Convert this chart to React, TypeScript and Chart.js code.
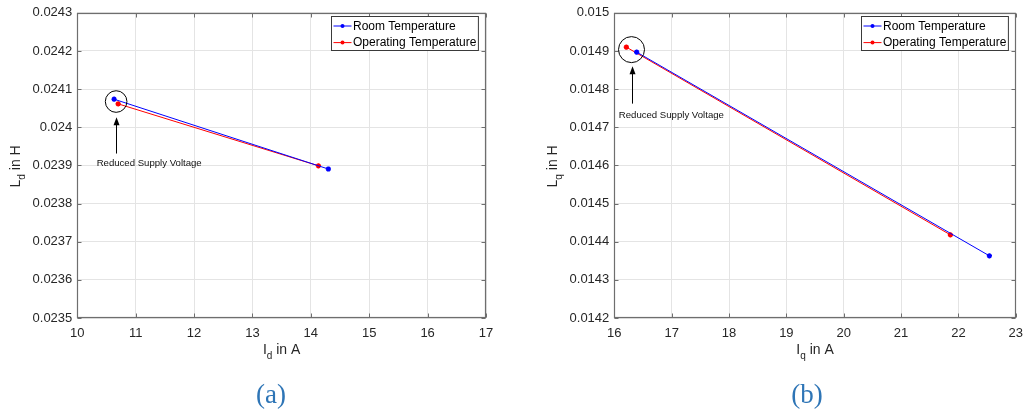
import React, { useEffect, useRef } from "react";
import { Chart, registerables } from "chart.js";

Chart.register(...registerables);

// ---------- data ----------
const seriesNames = ["Room Temperature", "Operating Temperature"];
const seriesColors = ["#0000FF", "#FF0000"];
const annotationText = "Reduced Supply Voltage";

// panel (a): Ld vs Id
const idRoom = [10.63, 14.3];
const ldRoom = [0.0240735, 0.0238905];
const idOper = [10.7, 14.13];
const ldOper = [0.0240613, 0.023899];
const idTicks = [10, 11, 12, 13, 14, 15, 16, 17];
const ldTicks = [0.0235, 0.0236, 0.0237, 0.0238, 0.0239, 0.024, 0.0241, 0.0242, 0.0243];

// panel (b): Lq vs Iq
const iqRoom = [16.39, 22.54];
const lqRoom = [0.014897, 0.014363];
const iqOper = [16.21, 21.86];
const lqOper = [0.01491, 0.014418];
const iqTicks = [16, 17, 18, 19, 20, 21, 22, 23];
const lqTicks = [0.0142, 0.0143, 0.0144, 0.0145, 0.0146, 0.0147, 0.0148, 0.0149, 0.015];

// ---------- layout ----------
const H = 416;
const PLOT_TOP = 10;
const PLOT_BOTTOM = 318;
const FONT = "'Liberation Sans', Arial, sans-serif";
const TEXT = "#262626";
const AXIS = "#6e6e6e";

type Panel = {
  left: number;
  width: number;
  plotLeft: number;
  plotRight: number;
  xs: number[][];
  ys: number[][];
  xTicks: number[];
  yTicks: number[];
  xSub: string;
  ySub: string;
  caption: string;
  captionX: number;
  circleR: number;
  textDx: number;
  textDy: number;
  arrowTip: number;
  arrowBase: number;
};

const panels: Panel[] = [
  {
    left: 0,
    width: 517,
    plotLeft: 77.3,
    plotRight: 486,
    xs: [idRoom, idOper],
    ys: [ldRoom, ldOper],
    xTicks: idTicks,
    yTicks: ldTicks,
    xSub: "d",
    ySub: "d",
    caption: "(a)",
    captionX: 271,
    circleR: 10.8,
    textDx: -19.5,
    textDy: 61.5,
    arrowTip: 15.8,
    arrowBase: 52,
  },
  {
    left: 517,
    width: 514,
    plotLeft: 614.3,
    plotRight: 1022.7,
    xs: [iqRoom, iqOper],
    ys: [lqRoom, lqOper],
    xTicks: iqTicks,
    yTicks: lqTicks,
    xSub: "q",
    ySub: "q",
    caption: "(b)",
    captionX: 807,
    circleR: 13,
    textDx: -12.7,
    textDy: 65.7,
    arrowTip: 16.7,
    arrowBase: 54,
  },
];

const fmt = (v: number) => String(parseFloat(Number(v).toFixed(5)));

function drawTitle(ctx: CanvasRenderingContext2D, main: string, sub: string, rest: string) {
  ctx.font = `14px ${FONT}`;
  const w1 = ctx.measureText(main).width;
  const w3 = ctx.measureText(rest).width;
  ctx.font = `10px ${FONT}`;
  const w2 = ctx.measureText(sub).width;
  const total = w1 + w2 + w3;
  let x = -total / 2;
  ctx.textAlign = "left";
  ctx.textBaseline = "alphabetic";
  ctx.font = `14px ${FONT}`;
  ctx.fillText(main, x, 0);
  x += w1;
  ctx.font = `10px ${FONT}`;
  ctx.fillText(sub, x, 5);
  x += w2;
  ctx.font = `14px ${FONT}`;
  ctx.fillText(rest, x, 0);
}

function makePlugin(p: Panel) {
  return {
    id: "matlabStyle" + p.caption,
    afterDraw(chart: any) {
      const ctx: CanvasRenderingContext2D = chart.ctx;
      const a = chart.chartArea;
      const xs = chart.scales.x;
      const ys = chart.scales.y;
      ctx.save();

      // box
      ctx.strokeStyle = AXIS;
      ctx.lineWidth = 1.2;
      const l = Math.round(a.left) + 0.5;
      const r = Math.round(a.right) - 0.5;
      const t = Math.round(a.top) + 0.5;
      const b = Math.round(a.bottom) - 0.5;
      ctx.strokeRect(l, t, r - l, b - t);
      // inward ticks
      ctx.lineWidth = 1;
      ctx.beginPath();
      p.xTicks.forEach((v) => {
        const px = Math.round(xs.getPixelForValue(v)) + 0.5;
        ctx.moveTo(px, b);
        ctx.lineTo(px, b - 4);
        ctx.moveTo(px, t);
        ctx.lineTo(px, t + 4);
      });
      p.yTicks.forEach((v) => {
        const py = Math.round(ys.getPixelForValue(v)) + 0.5;
        ctx.moveTo(l, py);
        ctx.lineTo(l + 4, py);
        ctx.moveTo(r, py);
        ctx.lineTo(r - 4, py);
      });
      ctx.stroke();

      // axis titles
      ctx.fillStyle = TEXT;
      ctx.save();
      ctx.translate((a.left + a.right) / 2, 354);
      drawTitle(ctx, "I", p.xSub, " in A");
      ctx.restore();
      ctx.save();
      ctx.translate(a.left - 57, (a.top + a.bottom) / 2 + 1);
      ctx.rotate(-Math.PI / 2);
      drawTitle(ctx, "L", p.ySub, " in H");
      ctx.restore();

      // legend
      ctx.font = `12px ${FONT}`;
      const tw = Math.max(...seriesNames.map((s) => ctx.measureText(s).width));
      const lw = 22 + tw + 1.5;
      const lx = Math.round(a.right - 8 - lw) + 0.5;
      const ly = 16.5;
      ctx.fillStyle = "#ffffff";
      ctx.fillRect(lx, ly, lw, 34);
      ctx.strokeStyle = "#3a3a3a";
      ctx.lineWidth = 1;
      ctx.strokeRect(lx, ly, lw, 34);
      seriesNames.forEach((name, i) => {
        const cy = ly + 9.5 + i * 16.6;
        ctx.strokeStyle = seriesColors[i];
        ctx.lineWidth = 1;
        ctx.beginPath();
        ctx.moveTo(lx + 2, cy);
        ctx.lineTo(lx + 20, cy);
        ctx.stroke();
        ctx.fillStyle = seriesColors[i];
        ctx.beginPath();
        ctx.arc(lx + 11, cy, 2, 0, Math.PI * 2);
        ctx.fill();
        ctx.fillStyle = "#000000";
        ctx.textAlign = "left";
        ctx.textBaseline = "middle";
        ctx.fillText(name, lx + 21.5, cy + 0.5);
      });

      // annotation: circle, arrow, text around first points
      const p0 = chart.getDatasetMeta(0).data[0];
      const p1 = chart.getDatasetMeta(1).data[0];
      const cx = (p0.x + p1.x) / 2;
      const cyc = (p0.y + p1.y) / 2;
      ctx.strokeStyle = "#000000";
      ctx.lineWidth = 1;
      ctx.beginPath();
      ctx.arc(cx, cyc, p.circleR, 0, Math.PI * 2);
      ctx.stroke();
      const ax = Math.round(cx) + 0.5;
      ctx.beginPath();
      ctx.moveTo(ax, cyc + p.arrowBase);
      ctx.lineTo(ax, cyc + p.arrowTip + 6);
      ctx.stroke();
      ctx.fillStyle = "#000000";
      ctx.beginPath();
      ctx.moveTo(ax, cyc + p.arrowTip);
      ctx.lineTo(ax - 3, cyc + p.arrowTip + 8);
      ctx.lineTo(ax + 3, cyc + p.arrowTip + 8);
      ctx.closePath();
      ctx.fill();
      ctx.font = `9.6px ${FONT}`;
      ctx.fillStyle = "#111111";
      ctx.textAlign = "left";
      ctx.textBaseline = "middle";
      ctx.fillText(annotationText, cx + p.textDx, cyc + p.textDy);

      // caption
      ctx.font = `27px 'Liberation Serif', 'Times New Roman', serif`;
      ctx.fillStyle = "#2E75B6";
      ctx.textAlign = "center";
      ctx.textBaseline = "alphabetic";
      ctx.fillText(p.caption, p.captionX - p.left, 403);

      ctx.restore();
    },
  };
}

function PanelChart({ p }: { p: Panel }) {
  const ref = useRef<HTMLCanvasElement | null>(null);
  useEffect(() => {
    if (!ref.current) return;
    const plotLeftLocal = p.plotLeft - p.left;
    const plotRightLocal = p.plotRight - p.left;
    const chart = new Chart(ref.current, {
      type: "scatter",
      data: {
        datasets: p.xs.map((xArr, si) => ({
          label: seriesNames[si],
          data: xArr.map((x, i) => ({ x, y: p.ys[si][i] })),
          showLine: true,
          borderColor: seriesColors[si],
          backgroundColor: seriesColors[si],
          borderWidth: 1,
          pointStyle: "star",
          pointRadius: 2.6,
          pointBorderWidth: 1.6,
          pointBorderColor: seriesColors[si],
          pointBackgroundColor: seriesColors[si],
        })),
      },
      options: {
        responsive: false,
        maintainAspectRatio: false,
        animation: false,
        events: [],
        layout: {
          padding: {
            top: PLOT_TOP,
            left: 0,
            bottom: 0,
            right: p.width - plotRightLocal,
          },
        },
        plugins: {
          legend: { display: false },
          tooltip: { enabled: false },
        },
        scales: {
          x: {
            type: "linear",
            min: p.xTicks[0],
            max: p.xTicks[p.xTicks.length - 1],
            afterBuildTicks: (s: any) => {
              s.ticks = p.xTicks.map((v) => ({ value: v }));
            },
            afterFit: (s: any) => {
              s.height = H - PLOT_BOTTOM;
            },
            grid: { color: "#e4e4e4", lineWidth: 1, drawTicks: false },
            border: { display: false },
            ticks: {
              padding: 8,
              color: TEXT,
              autoSkip: false,
              maxRotation: 0,
              font: { family: FONT, size: 13 },
              callback: (v: any) => fmt(v),
            },
          },
          y: {
            type: "linear",
            min: p.yTicks[0],
            max: p.yTicks[p.yTicks.length - 1],
            afterBuildTicks: (s: any) => {
              s.ticks = p.yTicks.map((v) => ({ value: v }));
            },
            afterFit: (s: any) => {
              s.width = plotLeftLocal;
            },
            grid: { color: "#e4e4e4", lineWidth: 1, drawTicks: false },
            border: { display: false },
            ticks: {
              padding: 5,
              color: TEXT,
              autoSkip: false,
              font: { family: FONT, size: 13 },
              callback: (v: any) => fmt(v),
            },
          },
        },
      } as any,
      plugins: [makePlugin(p)],
    });
    return () => chart.destroy();
  }, [p]);
  return (
    <canvas
      ref={ref}
      width={p.width}
      height={H}
      style={{ position: "absolute", left: p.left, top: 0, width: p.width, height: H }}
    />
  );
}

export default function App() {
  return (
    <div
      style={{
        position: "absolute",
        left: 0,
        top: 0,
        width: 1031,
        height: H,
        background: "#ffffff",
        overflow: "hidden",
      }}
    >
      {panels.map((p) => (
        <PanelChart key={p.caption} p={p} />
      ))}
    </div>
  );
}
